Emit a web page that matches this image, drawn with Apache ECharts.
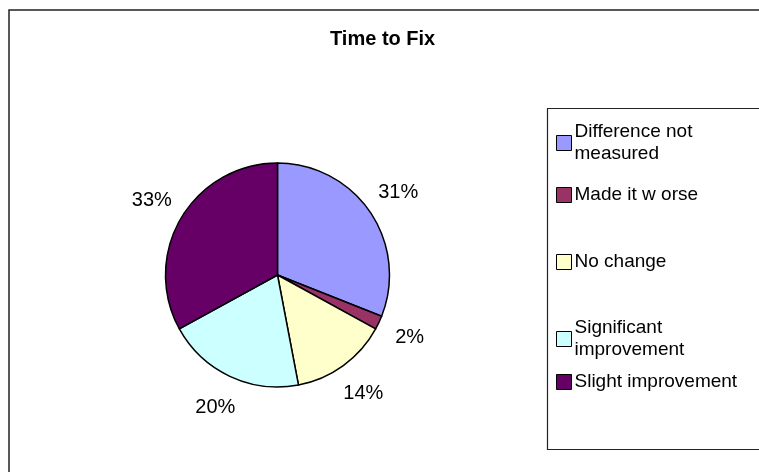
<!DOCTYPE html>
<html>
<head>
<meta charset="utf-8">
<script src="https://cdn.jsdelivr.net/npm/echarts@6/dist/echarts.min.js"></script>
<style>
  html, body { margin: 0; padding: 0; background: #fff; }
  #chart { width: 759px; height: 472px; }
</style>
</head>
<body>
<div id="chart"></div>
<script>
// Outcome categories and their share of responses (percent)
const categories = [
  'Difference not measured',
  'Made it worse',
  'No change',
  'Significant improvement',
  'Slight improvement'
];
const shares = [31, 2, 14, 20, 33];
const sliceColors = ['#9999FF', '#993366', '#FFFFCC', '#CCFFFF', '#660066'];

// Wrapped legend text for the longer names
const legendText = {
  'Difference not measured': 'Difference not\nmeasured',
  'Made it worse': 'Made it w orse',
  'No change': 'No change',
  'Significant improvement': 'Significant\nimprovement',
  'Slight improvement': 'Slight improvement'
};

const FONT = 'Liberation Sans, Arial, sans-serif';
const center = [277.5, 275];
const radius = 112;

const pieData = categories.map((name, i) => ({
  name,
  value: shares[i],
  itemStyle: { color: sliceColors[i] }
}));

// One single-entry legend per category, stacked down the legend panel
const legendTops = [121, 184, 251, 317, 371];
const legends = categories.map((name, i) => ({
  orient: 'vertical',
  left: 556,
  top: legendTops[i],
  padding: 0,
  icon: 'rect',
  itemWidth: 15,
  itemHeight: 15,
  itemGap: 0,
  selectedMode: false,
  data: [{ name, itemStyle: { color: sliceColors[i], borderColor: '#000', borderWidth: 1 } }],
  formatter: n => legendText[n] || n,
  textStyle: { fontFamily: FONT, fontSize: 19, color: '#000', lineHeight: 22, padding: [0, 0, 0, -2] }
}));

const chart = echarts.init(document.getElementById('chart'), null, { renderer: 'canvas' });
chart.setOption({
  backgroundColor: '#fff',
  animation: false,
  title: {
    text: 'Time to Fix',
    left: 330,
    top: 29,
    padding: 0,
    textStyle: { fontFamily: FONT, fontSize: 20, fontWeight: 'bold', color: '#000' }
  },
  legend: legends,
  graphic: [
    {
      type: 'rect',
      silent: true,
      shape: { x: 9, y: 10, width: 800, height: 520 },
      style: { fill: 'none', stroke: '#222', lineWidth: 1.5 }
    },
    {
      type: 'rect',
      silent: true,
      shape: { x: 547.5, y: 108.5, width: 300, height: 341 },
      style: { fill: 'none', stroke: '#222', lineWidth: 1.2 }
    }
  ],
  series: [
    {
      name: 'Time to Fix',
      type: 'pie',
      center,
      radius: [0, radius],
      startAngle: 90,
      clockwise: true,
      silent: true,
      label: { show: false },
      labelLine: { show: false },
      itemStyle: { borderColor: '#000', borderWidth: 1.5 },
      emphasis: { disabled: true },
      data: pieData
    },
    {
      // invisible ring that places percentage labels just outside each slice
      name: 'labels',
      type: 'pie',
      center,
      radius: [radius, radius + 62],
      startAngle: 90,
      clockwise: true,
      silent: true,
      itemStyle: { color: 'rgba(0,0,0,0)', borderWidth: 0 },
      emphasis: { disabled: true },
      label: {
        show: true,
        position: 'inside',
        formatter: p => Math.round(p.percent) + '%',
        fontFamily: FONT,
        fontSize: 20,
        color: '#000'
      },
      labelLine: { show: false },
      data: categories.map((name, i) => ({ name, value: shares[i] }))
    }
  ]
});
</script>
</body>
</html>
